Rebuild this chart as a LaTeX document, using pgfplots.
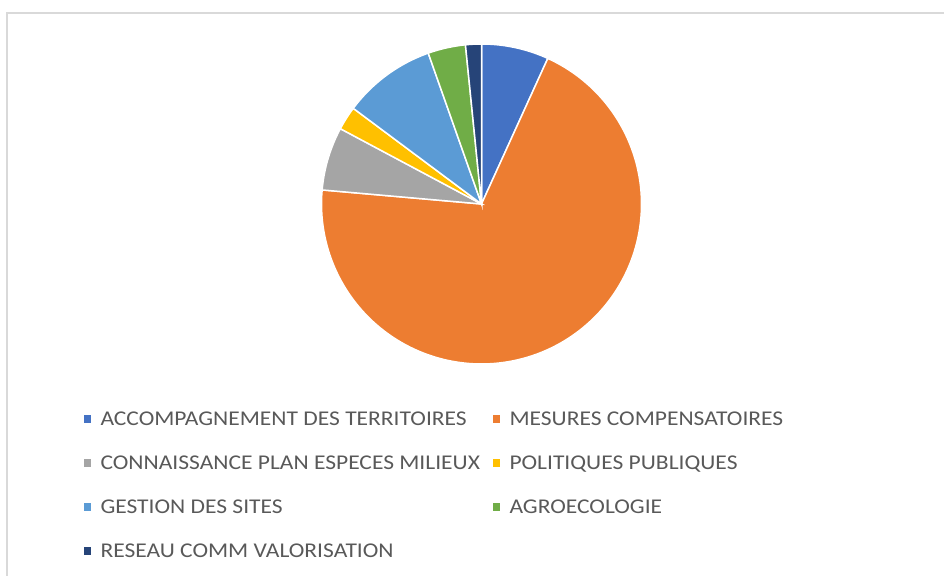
\documentclass[border=0pt]{standalone}
\usepackage{fontspec}
\setmainfont{Carlito}
\newfontfamily\legfont{Carlito}[FakeStretch=1.12]
\usepackage{pgfplots}
\pgfplotsset{compat=1.18}
\definecolor{cA}{HTML}{4472C4}
\definecolor{cB}{HTML}{ED7D31}
\definecolor{cC}{HTML}{A5A5A5}
\definecolor{cD}{HTML}{FFC000}
\definecolor{cE}{HTML}{5B9BD5}
\definecolor{cF}{HTML}{70AD47}
\definecolor{cG}{HTML}{264478}
\definecolor{textgray}{HTML}{595959}
\definecolor{framegray}{HTML}{D9D9D9}
% shares (percent), clockwise from 12 o'clock
\def\vA{6.8}\def\vB{69.6}\def\vC{6.4}\def\vD{2.4}\def\vE{9.4}\def\vF{3.8}\def\vG{1.6}
\pgfmathsetmacro\aO{90}
\pgfmathsetmacro\aA{\aO-3.6*\vA}
\pgfmathsetmacro\aB{\aA-3.6*\vB}
\pgfmathsetmacro\aC{\aB-3.6*\vC}
\pgfmathsetmacro\aD{\aC-3.6*\vD}
\pgfmathsetmacro\aE{\aD-3.6*\vE}
\pgfmathsetmacro\aF{\aE-3.6*\vF}
\pgfmathsetmacro\aG{\aF-3.6*\vG}
\def\cx{481.5}\def\cy{372}\def\rr{160}
\begin{document}
\begin{tikzpicture}
\begin{axis}[
  width=944bp, height=576bp, scale only axis,
  xmin=0, xmax=944, ymin=0, ymax=576,
  hide axis, clip=false,
  legend columns=2,
  legend style={at={(axis cs:82,164)}, anchor=north west, draw=none, fill=none,
    inner sep=0pt, outer sep=0pt, row sep=26bp, column sep=0pt,
    font=\legfont\fontsize{21bp}{21bp}\selectfont, text=textgray,
    cells={anchor=base west},
    nodes={inner sep=0pt, outer sep=0pt, text height=14bp, text depth=4bp},
    /tikz/every even column/.append style={column sep=11bp}},
  legend image code/.code={\fill (0bp,2.5bp) rectangle (9bp,11.5bp); \path (17bp,0bp);},
  pie/.style={draw=white, line width=1.5bp, variable=\t},
]
\addplot[pie, fill=cA, domain=\aA:\aO, samples=20] ({\cx+\rr*cos(\t)},{\cy+\rr*sin(\t)}) -- (axis cs:\cx,\cy) -- cycle;
\addlegendentry{ACCOMPAGNEMENT DES TERRITOIRES}
\addplot[pie, fill=cB, domain=\aB:\aA, samples=140] ({\cx+\rr*cos(\t)},{\cy+\rr*sin(\t)}) -- (axis cs:\cx,\cy) -- cycle;
\addlegendentry{MESURES COMPENSATOIRES}
\addplot[pie, fill=cC, domain=\aC:\aB, samples=20] ({\cx+\rr*cos(\t)},{\cy+\rr*sin(\t)}) -- (axis cs:\cx,\cy) -- cycle;
\addlegendentry{CONNAISSANCE PLAN ESPECES MILIEUX}
\addplot[pie, fill=cD, domain=\aD:\aC, samples=10] ({\cx+\rr*cos(\t)},{\cy+\rr*sin(\t)}) -- (axis cs:\cx,\cy) -- cycle;
\addlegendentry{POLITIQUES PUBLIQUES}
\addplot[pie, fill=cE, domain=\aE:\aD, samples=25] ({\cx+\rr*cos(\t)},{\cy+\rr*sin(\t)}) -- (axis cs:\cx,\cy) -- cycle;
\addlegendentry{GESTION DES SITES}
\addplot[pie, fill=cF, domain=\aF:\aE, samples=12] ({\cx+\rr*cos(\t)},{\cy+\rr*sin(\t)}) -- (axis cs:\cx,\cy) -- cycle;
\addlegendentry{AGROECOLOGIE}
\addplot[pie, fill=cG, domain=\aG:\aF, samples=8] ({\cx+\rr*cos(\t)},{\cy+\rr*sin(\t)}) -- (axis cs:\cx,\cy) -- cycle;
\addlegendentry{RESEAU COMM VALORISATION}
\end{axis}
\draw[framegray, line width=2bp] (7bp,0bp) -- (7bp,563bp) -- (944bp,563bp);
\pgfresetboundingbox
\path (0bp,0bp) rectangle (944bp,576bp);
\end{tikzpicture}
\end{document}
